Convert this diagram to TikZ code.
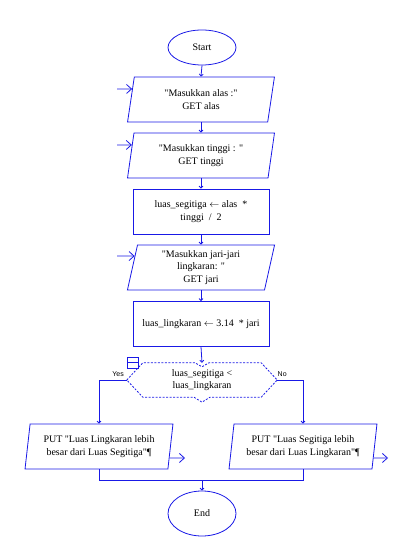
\documentclass[tikz,border=0pt]{standalone}
\usepackage{fontspec}
\setmainfont{Liberation Serif}[Ligatures=TeXOff]
\newfontfamily\branchfont{Liberation Sans}
\usetikzlibrary{shapes.geometric,arrows.meta,calc}
\definecolor{flowblue}{RGB}{25,25,230}

\tikzset{
  flowline/.style={draw=flowblue, line width=0.8pt},
  terminal/.style={ellipse, flowline, minimum width=68pt, minimum height=35pt,
    font=\fontsize{10}{12}\selectfont},
  iobox/.style={trapezium, trapezium left angle=80, trapezium right angle=100,
    trapezium stretches=true, flowline, minimum width=148pt, minimum height=45pt,
    inner sep=1pt, align=center, font=\fontsize{10}{12.5}\selectfont},
  procbox/.style={rectangle, flowline, minimum width=136pt, minimum height=45pt,
    inner sep=1pt, align=center, font=\fontsize{10}{12.5}\selectfont},
  decbox/.style={rectangle, minimum width=150pt, minimum height=34pt,
    inner sep=1pt, align=center, font=\fontsize{10}{12.5}\selectfont},
  branch/.style={font=\branchfont\fontsize{7}{8}\selectfont, inner sep=0pt},
  tip/.style={flowline, -{Straight Barb[length=2pt,width=4pt]}},
  iotip/.style={flowline, -{Straight Barb[length=5pt,width=9pt]}},
}

\begin{document}
\begin{tikzpicture}[x=1pt,y=-1pt]
\useasboundingbox (0,0) rectangle (418,540);

% Flowchart boxes
\node[terminal] (start) at (202,47.5) {Start};
\node[iobox] (inalas) at (201,99.5) {"Masukkan alas :"\\GET alas};
\node[iobox] (intinggi) at (201,155.5) {"Masukkan tinggi : "\\GET tinggi};
\node[procbox] (segitiga) at (201,211.5) {luas\_segitiga $\leftarrow$ alas~ *\\tinggi~ /~ 2};
\node[iobox] (injari) at (201,267.5) {"Masukkan jari-jari\\lingkaran: "\\GET jari};
\node[procbox] (lingkaran) at (201,324) {luas\_lingkaran $\leftarrow$ 3.14~ * jari};
\node[decbox] (cek) at (202,380) {luas\_segitiga <\\luas\_lingkaran};
\node[iobox] (putkiri) at (99,446.5) {PUT "Luas Lingkaran lebih\\besar dari Luas Segitiga"¶};
\node[iobox] (putkanan) at (303,446.5) {PUT "Luas Segitiga lebih\\besar dari Luas Lingkaran"¶};
\node[terminal, minimum height=45pt] (end) at (202,513.5) {End};

% Decision outline
\draw[flowline, dash pattern=on 2pt off 1.5pt]
  (cek.west) -- ($(cek.north west)+(16,0)$) -- ($(cek.north)+(-7,0)$)
  -- ($(cek.north)+(0,4)$) -- ($(cek.north)+(7,0)$) -- ($(cek.north east)+(-16,0)$)
  -- (cek.east) -- ($(cek.south east)+(-16,0)$) -- ($(cek.south)+(8,0)$)
  -- ($(cek.south)+(0,5)$) -- ($(cek.south)+(-8,0)$) -- ($(cek.south west)+(16,0)$)
  -- cycle;
\draw[flowline, line width=0.6pt] (127,357) rectangle (138,368) (127,362.5) -- (138,362.5);
\node[branch, anchor=base east] (yes) at (124,376) {Yes};
\node[branch, anchor=base west] (no) at (277.5,376) {No};

% Main flow
\draw[tip] (start.south) -- (inalas.center |- inalas.north);
\draw[tip] (inalas.center |- inalas.south) -- (intinggi.center |- intinggi.north);
\draw[tip] (intinggi.center |- intinggi.south) -- (segitiga.north);
\draw[tip] (segitiga.south) -- (injari.center |- injari.north);
\draw[tip] (injari.center |- injari.south) -- (lingkaran.north);
\draw[tip] (lingkaran.south) -- (cek.north);

% Input arrows
\coordinate (alasin) at (117,89);
\coordinate (tinggiin) at (117,145);
\coordinate (jariin) at (117,256);
\draw[iotip] (alasin) -- ($(inalas.top left corner)!0.27!(inalas.bottom left corner)$);
\draw[iotip] (tinggiin) -- ($(intinggi.top left corner)!0.27!(intinggi.bottom left corner)$);
\draw[iotip] (jariin) -- ($(injari.top left corner)!0.25!(injari.bottom left corner)$);

% Branches
\draw[tip] (cek.west) -| (putkiri.center |- putkiri.north);
\draw[tip] (cek.east) -| (putkanan.center |- putkanan.north);

% Output arrows
\coordinate (kiriout) at (185,458);
\coordinate (kananout) at (388,458);
\draw[iotip] ($(putkiri.top right corner)!0.75!(putkiri.bottom right corner)$) -- (kiriout);
\draw[iotip] ($(putkanan.top right corner)!0.75!(putkanan.bottom right corner)$) -- (kananout);

% Merge
\coordinate (gabung) at (202,480);
\draw[flowline] (putkiri.center |- putkiri.south) -- (putkiri.center |- gabung)
  -- (putkanan.center |- gabung) -- (putkanan.center |- putkanan.south);
\draw[tip] (gabung) -- (end.north);

\end{tikzpicture}
\end{document}
